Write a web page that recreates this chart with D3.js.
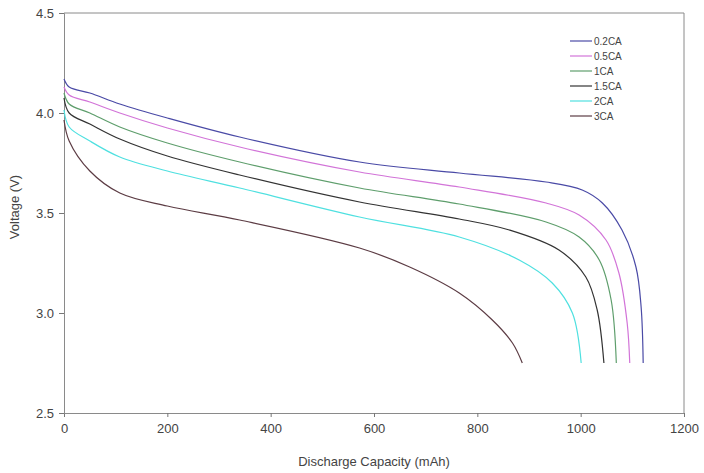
<!DOCTYPE html>
<html lang="en">
<head>
	<meta charset="UTF-8">
	<title>Discharge curves</title>
	<style>
		body { margin: 0; background: #fff; }
		text { font-family: "Liberation Sans", Arial, sans-serif; fill: #444; }
	</style>
</head>
<body>
	<svg width="704" height="473"></svg>

	<script src="https://d3js.org/d3.v7.min.js"></script>
	<script>
		// series names and colours
		var names = ["0.2CA", "0.5CA", "1CA", "1.5CA", "2CA", "3CA"];
		var colors = ["#4a4aa6", "#d274d8", "#5e9e6c", "#333333", "#4fe0e0", "#5c3c44"];

		// capacity (mAh) / voltage (V)
		var cap02 = [0, 10, 50, 108, 200, 340, 572, 765, 933, 1003, 1042, 1080, 1107, 1117, 1121];
		var v02   = [4.17, 4.13, 4.10, 4.045, 3.975, 3.88, 3.755, 3.70, 3.655, 3.615, 3.55, 3.415, 3.23, 3.03, 2.75];
		var cap05 = [0, 10, 50, 108, 200, 340, 572, 765, 933, 997, 1049, 1074, 1090, 1095];
		var v05   = [4.13, 4.09, 4.055, 4.0, 3.925, 3.83, 3.705, 3.63, 3.55, 3.49, 3.365, 3.2, 2.95, 2.75];
		var cap1  = [0, 10, 50, 108, 200, 340, 572, 765, 933, 997, 1036, 1059, 1069];
		var v1    = [4.10, 4.045, 4.0, 3.93, 3.85, 3.755, 3.625, 3.545, 3.455, 3.38, 3.265, 3.065, 2.75];
		var cap15 = [0, 10, 50, 108, 200, 340, 572, 765, 862, 958, 1010, 1032, 1045];
		var v15   = [4.075, 4.0, 3.945, 3.87, 3.785, 3.69, 3.555, 3.47, 3.415, 3.315, 3.18, 3.015, 2.75];
		var cap2  = [0, 10, 50, 108, 200, 340, 572, 765, 881, 945, 984, 1001];
		var v2    = [4.015, 3.93, 3.86, 3.78, 3.71, 3.625, 3.48, 3.38, 3.265, 3.15, 3.0, 2.75];
		var cap3  = [0, 10, 50, 108, 200, 340, 572, 669, 765, 829, 868, 887];
		var v3    = [3.965, 3.86, 3.71, 3.60, 3.535, 3.465, 3.325, 3.23, 3.10, 2.965, 2.85, 2.75];

		var xTicks = [0, 200, 400, 600, 800, 1000, 1200];
		var yTicks = [2.5, 3.0, 3.5, 4.0, 4.5];

		var caps = [cap02, cap05, cap1, cap15, cap2, cap3];
		var volts = [v02, v05, v1, v15, v2, v3];

		var svg = d3.select("svg");
		var marge = {top: 13, bottom: 60, left: 64, right: 20};
		var width = 704, height = 473;

		var xScale = d3.scaleLinear().domain([0, 1200]).range([marge.left, width - marge.right]);
		var yScale = d3.scaleLinear().domain([2.5, 4.5]).range([height - marge.bottom, marge.top]);

		// frame: top and right edges
		svg.append("path")
			.attr("d", "M" + xScale(0) + "," + yScale(4.5) + "H" + xScale(1200) + "V" + yScale(2.5))
			.attr("fill", "none")
			.attr("stroke", "#8a8a8a")
			.attr("stroke-width", 1);

		var xAxis = d3.axisBottom(xScale).tickValues(xTicks).tickSize(4).tickPadding(7).tickFormat(d3.format("d"));
		var yAxis = d3.axisLeft(yScale).tickValues(yTicks).tickSize(5).tickPadding(5).tickFormat(d3.format(".1f"));

		var gx = svg.append("g")
			.attr("transform", "translate(0," + yScale(2.5) + ")")
			.call(xAxis);
		var gy = svg.append("g")
			.attr("transform", "translate(" + xScale(0) + ",0)")
			.call(yAxis);
		[gx, gy].forEach(function(g){
			g.select(".domain").attr("stroke", "#8a8a8a");
			g.selectAll(".tick line").attr("stroke", "#777");
			g.selectAll(".tick text").attr("fill", "#444").style("font-size", "13px")
				.style("font-family", "'Liberation Sans', Arial, sans-serif");
		});

		// curves
		var line = d3.line()
			.x(function(d){ return xScale(d[0]); })
			.y(function(d){ return yScale(d[1]); })
			.curve(d3.curveCatmullRom.alpha(0.5));

		names.forEach(function(n, i){
			var pts = caps[i].map(function(c, j){ return [c, volts[i][j]]; });
			svg.append("path")
				.datum(pts)
				.attr("d", line)
				.attr("fill", "none")
				.attr("stroke", colors[i])
				.attr("stroke-width", 1.2);
		});

		// legend
		var lg = svg.append("g").attr("transform", "translate(570,41)");
		var items = lg.selectAll("g").data(names).enter().append("g")
			.attr("transform", function(d, i){ return "translate(0," + (i * 15) + ")"; });
		items.append("line")
			.attr("x1", 0).attr("x2", 22).attr("y1", 0).attr("y2", 0)
			.attr("stroke", function(d, i){ return colors[i]; })
			.attr("stroke-width", 1.2);
		items.append("text")
			.attr("x", 24).attr("y", 4)
			.style("font-size", "10px")
			.text(function(d){ return d; });

		// axis titles
		svg.append("text")
			.attr("x", (xScale(0) + xScale(1200)) / 2)
			.attr("y", 466)
			.attr("text-anchor", "middle")
			.style("font-size", "13px")
			.text("Discharge Capacity (mAh)");
		svg.append("text")
			.attr("transform", "translate(19,207) rotate(-90)")
			.attr("text-anchor", "middle")
			.style("font-size", "13px")
			.text("Voltage (V)");
	</script>
</body>
</html>
